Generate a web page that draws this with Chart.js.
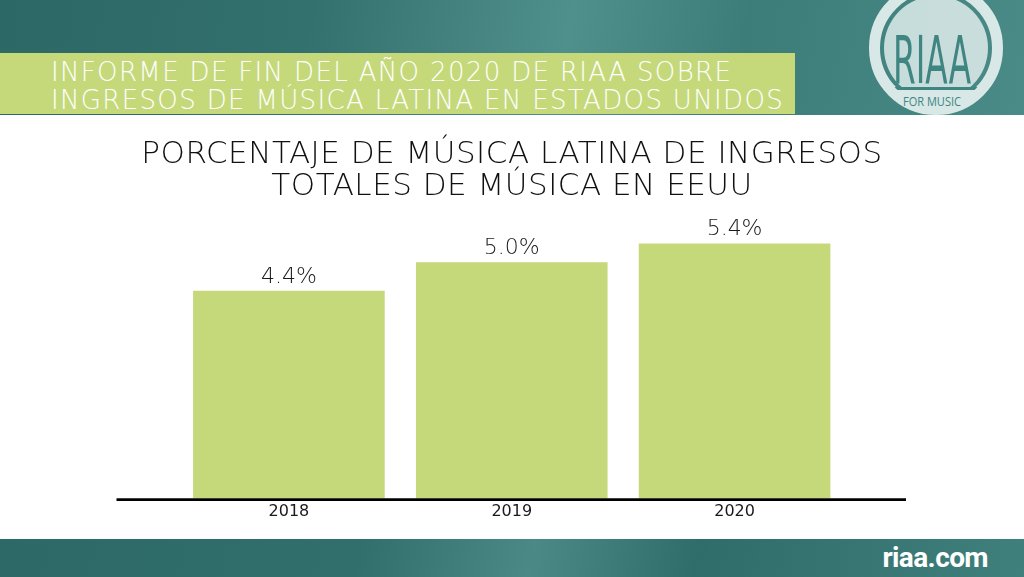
<!DOCTYPE html>
<html>
<head>
<meta charset="utf-8">
<script src="https://cdn.jsdelivr.net/npm/chart.js@4.4.1/dist/chart.umd.min.js"></script>
<style>
  html, body { margin: 0; padding: 0; width: 1024px; height: 577px; overflow: hidden; background: #fff; }
  .band { position: absolute; left: 0; width: 1024px;
    background: linear-gradient(100deg, #2c6865 0%, #33716e 30%, #4f8f8c 55%, #3c7c79 72%, #4a8a87 100%); }
  #top { top: 0; height: 115px; }
  #bottom { top: 539px; height: 38px;
    background: linear-gradient(100deg, #2d6a67 0%, #316f6c 35%, #4a8986 52%, #2f6d6a 68%, #3f7f7c 100%); }
  #banner { position: absolute; left: 0; top: 53px; width: 795px; height: 61px; background: #c5d97b; }
  .head { position: absolute; left: 51px; color: #fff; font: 200 26px 'DejaVu Sans', sans-serif;
    letter-spacing: 1.35px; white-space: nowrap; line-height: 26px; }
  #site { position: absolute; right: 36px; top: 540px; color: #fff; font: 700 28px Roboto, sans-serif;
    letter-spacing: -0.6px; line-height: 36px; }
  #logo { position: absolute; left: 0; top: 0; }
  #wrap { position: absolute; left: 0; top: 0; width: 1024px; height: 577px; }
</style>
</head>
<body>
<div class="band" id="top"></div>
<div class="band" id="bottom"></div>
<div id="banner"></div>
<div class="head" style="top:58.8px">INFORME DE FIN DEL AÑO 2020 DE RIAA SOBRE</div>
<div class="head" style="top:87px">INGRESOS DE MÚSICA LATINA EN ESTADOS UNIDOS</div>
<svg id="logo" width="1024" height="120">
  <defs><clipPath id="inner"><circle cx="936" cy="48" r="57"/></clipPath></defs>
  <circle cx="936" cy="48" r="61.5" fill="none" stroke="#d7e8e6" stroke-width="11"/>
  <circle cx="936" cy="48" r="52" fill="rgba(214,231,229,0.9)"/>
  <rect x="870" y="89" width="140" height="40" fill="#d7e8e6" clip-path="url(#inner)"/>
  <text x="932" y="83" text-anchor="middle" font-family="DejaVu Sans Condensed, DejaVu Sans" font-weight="400"
        font-size="66" fill="#3f8581" textLength="78" lengthAdjust="spacingAndGlyphs">RIAA</text>
  <rect x="870" y="87" width="140" height="3" fill="#3f8581" clip-path="url(#inner)"/>
  <text x="932" y="106" text-anchor="middle" font-family="Open Sans, Roboto" font-size="12.5"
        fill="#3f8581" textLength="58" lengthAdjust="spacingAndGlyphs">FOR MUSIC</text>
</svg>
<div id="site">riaa.com</div>
<div id="wrap"><canvas id="shareChart"></canvas></div>
<script>
// Datos del gráfico
const years = ['2018', '2019', '2020'];
const latinShare = [4.4, 5.0, 5.4];
const titleLines = ['PORCENTAJE DE MÚSICA LATINA DE INGRESOS', 'TOTALES DE MÚSICA EN EEUU'];

// espaciado de letras solo para el título (los ticks se dibujan después, z: 1)
const titleSpacing = {
    id: 'titleSpacing',
    beforeDraw(chart) { chart.ctx.letterSpacing = '0.5px'; },
    beforeDatasetsDraw(chart) { chart.ctx.letterSpacing = '0px'; }
};

// línea base más larga que el área del gráfico + etiquetas de valor
const baselineAndValues = {
    id: 'baselineAndValues',
    afterDatasetsDraw(chart) {
        const ctx = chart.ctx;
        const area = chart.chartArea;
        const y0 = chart.scales.y.getPixelForValue(0);
        ctx.save();
        ctx.strokeStyle = '#000';
        ctx.lineWidth = 2.6;
        ctx.beginPath();
        ctx.moveTo(area.left - 61, y0 + 1.2);
        ctx.lineTo(area.right + 60, y0 + 1.2);
        ctx.stroke();

        ctx.fillStyle = '#1a1a1a';
        ctx.font = '200 22px "DejaVu Sans"';
        ctx.textAlign = 'center';
        ctx.textBaseline = 'alphabetic';
        chart.getDatasetMeta(0).data.forEach((bar, i) => {
            ctx.fillText(latinShare[i].toFixed(1) + '%', bar.x, bar.y - 8);
        });
        ctx.restore();
    }
};

// ejes verticales invisibles que reservan el margen lateral
const hiddenSide = (w, pos) => ({
    display: true, position: pos, min: 0, max: 6,
    grid: { display: false, drawTicks: false },
    border: { display: false },
    ticks: { display: false },
    afterFit(scale) { scale.width = w; }
});

const ctx = document.getElementById('shareChart').getContext('2d');
new Chart(ctx, {
    type: 'bar',
    data: {
        labels: years,
        datasets: [{
            label: 'Música latina',
            data: latinShare,
            yAxisID: 'y',
            backgroundColor: '#c5d97a',
            borderWidth: 0,
            categoryPercentage: 0.86,
            barPercentage: 1
        }]
    },
    options: {
        responsive: true,
        maintainAspectRatio: false,
        animation: false,
        layout: { padding: { left: 0, right: 0, top: 0, bottom: 51.4 } },
        plugins: {
            legend: { display: false },
            tooltip: { enabled: false },
            title: {
                display: true,
                text: titleLines,
                color: '#111',
                font: { family: 'DejaVu Sans', size: 31, weight: '200', lineHeight: 1.05 },
                padding: { top: 138.4, bottom: 11.6 }
            }
        },
        scales: {
            y: hiddenSide(177.5, 'left'),
            yRight: hiddenSide(178, 'right'),
            x: {
                grid: { display: false, drawTicks: false },
                border: { display: false },
                ticks: { z: 1, color: '#1a1a1a', padding: 4, font: { family: 'DejaVu Sans', size: 16, weight: '400' } }
            }
        }
    },
    plugins: [titleSpacing, baselineAndValues]
});
</script>
</body>
</html>
